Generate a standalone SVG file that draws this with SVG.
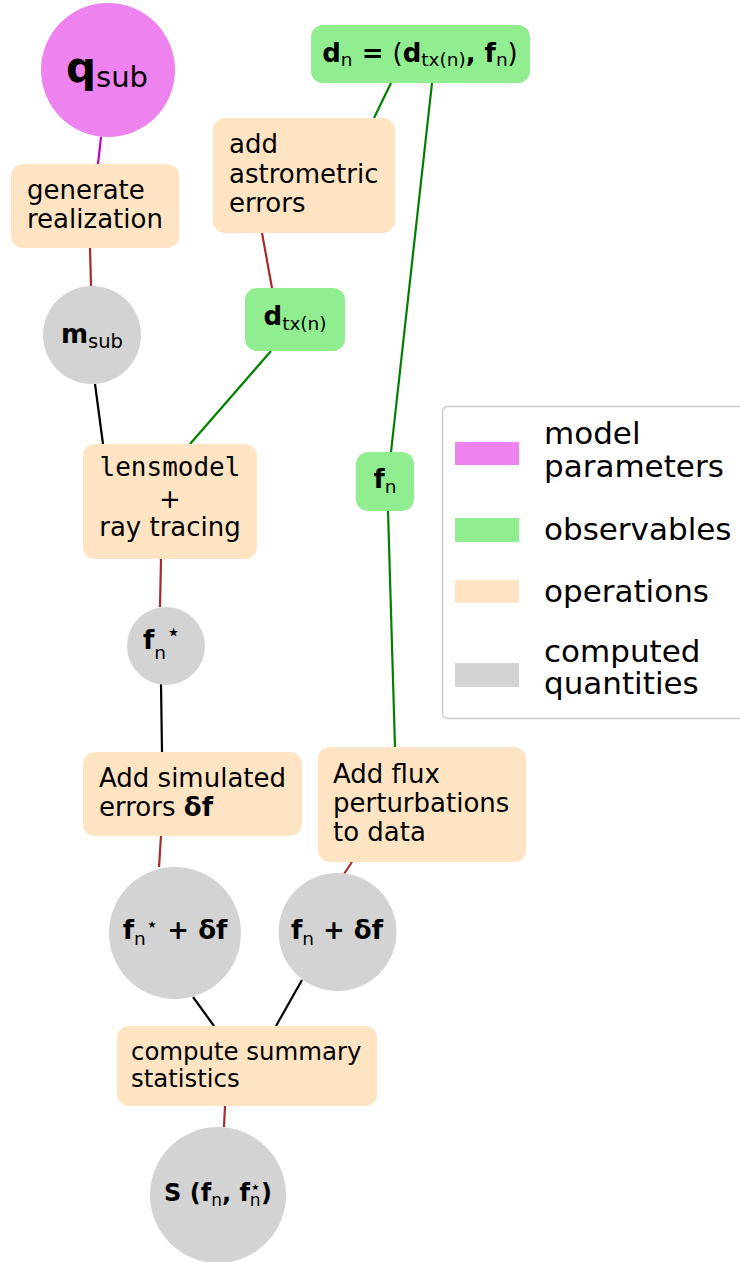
<svg xmlns="http://www.w3.org/2000/svg" width="740" height="1262" viewBox="0 0 740 1262">
<style>
text { font-family: "DejaVu Sans", sans-serif; fill: #000; font-size: 26px; }
.op { fill: #ffe4c4; }
.obs { fill: #90ee90; }
.comp { fill: #d3d3d3; }
.par { fill: #ee82ee; }
.b { font-weight: bold; }
.mono { font-family: "DejaVu Sans Mono", monospace; }
.e line { stroke-width: 2.2; fill: none; }
.m { stroke: #bf00bf; } .br { stroke: #a52a2a; } .g { stroke: #008000; } .k { stroke: #000; }
.leg { font-size: 31px; }
.sub { font-size: 18.5px; font-weight: normal; }
.star { font-size: 22px; font-weight: normal; }
</style>
<rect width="740" height="1262" fill="#fff"/>
<g id="connectors" class="e">
  <line class="m" x1="101" y1="137" x2="98" y2="164"/>
  <line class="br" x1="90" y1="248" x2="91" y2="286"/>
  <line class="g" x1="391" y1="83" x2="374" y2="118"/>
  <line class="br" x1="262" y1="233" x2="272" y2="288"/>
  <line class="g" x1="432" y1="83" x2="391" y2="452"/>
  <line class="g" x1="388" y1="511" x2="395" y2="747"/>
  <line class="k" x1="95" y1="384" x2="103" y2="444"/>
  <line class="g" x1="271" y1="351" x2="190" y2="444"/>
  <line class="br" x1="161" y1="559" x2="160" y2="607"/>
  <line class="k" x1="161" y1="684" x2="162" y2="752"/>
  <line class="br" x1="161" y1="836" x2="159" y2="867"/>
  <line class="br" x1="352" y1="862" x2="344" y2="874"/>
  <line class="k" x1="193" y1="997" x2="214" y2="1026"/>
  <line class="k" x1="302" y1="980" x2="276" y2="1026"/>
  <line class="br" x1="225" y1="1106" x2="224" y2="1127"/>
</g>
<g id="q_sub">
  <circle class="par" cx="108" cy="70" r="67"/>
  <text x="107" y="82" text-anchor="middle"><tspan class="b" style="font-size:42px">q</tspan><tspan style="font-size:29px" dy="5">sub</tspan></text>
</g>
<g id="generate">
  <rect class="op" x="11" y="164" width="168" height="84" rx="12"/>
  <text x="27" y="199">generate</text>
  <text x="27" y="228">realization</text>
</g>
<g id="m_sub">
  <circle class="comp" cx="92" cy="335" r="49"/>
  <text x="92" y="343" text-anchor="middle"><tspan class="b">m</tspan><tspan class="sub" style="font-size:19.5px" dy="5">sub</tspan></text>
</g>
<g id="add_astrometric">
  <rect class="op" x="213" y="118" width="182" height="115" rx="12"/>
  <text x="229" y="153">add</text>
  <text x="229" y="183">astrometric</text>
  <text x="229" y="212">errors</text>
</g>
<g id="d_n">
  <rect class="obs" x="311" y="25" width="219" height="58" rx="12"/>
  <text x="420" y="62" text-anchor="middle"><tspan class="b">d</tspan><tspan class="sub" dy="4">n</tspan><tspan class="b" dy="-4"> = </tspan><tspan>(</tspan><tspan class="b">d</tspan><tspan class="sub" dy="4">tx(n)</tspan><tspan class="b" dy="-4">, f</tspan><tspan class="sub" dy="4">n</tspan><tspan dy="-4">)</tspan></text>
</g>
<g id="d_tx">
  <rect class="obs" x="245" y="288" width="100" height="63" rx="12"/>
  <text x="295" y="325" text-anchor="middle"><tspan class="b">d</tspan><tspan class="sub" dy="5">tx(n)</tspan></text>
</g>
<g id="f_n">
  <rect class="obs" x="356" y="452" width="58" height="59" rx="12"/>
  <text x="385" y="488" text-anchor="middle"><tspan class="b">f</tspan><tspan class="sub" dy="5">n</tspan></text>
</g>
<g id="lensmodel">
  <rect class="op" x="83" y="444" width="174" height="115" rx="12"/>
  <text class="mono" x="170" y="476" text-anchor="middle">lensmodel</text>
  <text x="170" y="508" text-anchor="middle">+</text>
  <text x="170" y="536" text-anchor="middle">ray tracing</text>
</g>
<g id="f_n_star">
  <circle class="comp" cx="166" cy="646" r="39"/>
  <text x="162" y="649" text-anchor="middle"><tspan class="b">f</tspan><tspan class="sub" dy="10">n</tspan><tspan class="star" style="font-size:24px" dy="-19">⋆</tspan></text>
</g>
<g id="add_simulated">
  <rect class="op" x="83" y="752" width="219" height="84" rx="12"/>
  <text x="99" y="787">Add simulated</text>
  <text x="99" y="816">errors <tspan class="b">δf</tspan></text>
</g>
<g id="add_flux">
  <rect class="op" x="318" y="747" width="208" height="115" rx="12"/>
  <text x="333" y="783">Add flux</text>
  <text x="333" y="812">perturbations</text>
  <text x="333" y="841">to data</text>
</g>
<g id="f_n_star_df">
  <circle class="comp" cx="175" cy="933" r="66"/>
  <text x="175" y="939" text-anchor="middle" class="b"><tspan>f</tspan><tspan class="sub" dy="6">n</tspan><tspan class="star" style="font-size:20px" dy="-14">⋆</tspan><tspan dy="8"> + δf</tspan></text>
</g>
<g id="f_n_df">
  <circle class="comp" cx="337.5" cy="932" r="59"/>
  <text x="337" y="939" text-anchor="middle" class="b"><tspan>f</tspan><tspan class="sub" dy="6">n</tspan><tspan dy="-6"> + δf</tspan></text>
</g>
<g id="compute_summary">
  <rect class="op" x="117" y="1026" width="260" height="80" rx="12"/>
  <text x="131" y="1060" style="font-size:24.4px">compute summary</text>
  <text x="131" y="1087" style="font-size:24.4px">statistics</text>
</g>
<g id="S">
  <circle class="comp" cx="218" cy="1195" r="68"/>
  <text x="218" y="1201" text-anchor="middle" class="b" style="font-size:24px"><tspan>S (f</tspan><tspan class="sub" style="font-size:17px" dy="5">n</tspan><tspan dy="-5">, f</tspan><tspan class="sub" style="font-size:17px" dy="5">n</tspan><tspan class="star" style="font-size:18px" dx="-11" dy="-13">⋆</tspan><tspan dy="8">)</tspan></text>
</g>
<g id="legend">
  <rect x="442.5" y="406.5" width="310" height="312" rx="5" fill="#fff" stroke="#cccccc" stroke-width="1.5"/>
  <rect class="par" x="455" y="442" width="64" height="23"/>
  <rect class="obs" x="455" y="518" width="64" height="24"/>
  <rect class="op" x="455" y="580" width="64" height="23"/>
  <rect class="comp" x="455" y="663" width="64" height="24"/>
  <text class="leg" x="544" y="444">model</text>
  <text class="leg" x="544" y="477">parameters</text>
  <text class="leg" x="544" y="540">observables</text>
  <text class="leg" x="544" y="602">operations</text>
  <text class="leg" x="544" y="662">computed</text>
  <text class="leg" x="544" y="694">quantities</text>
</g>
</svg>
